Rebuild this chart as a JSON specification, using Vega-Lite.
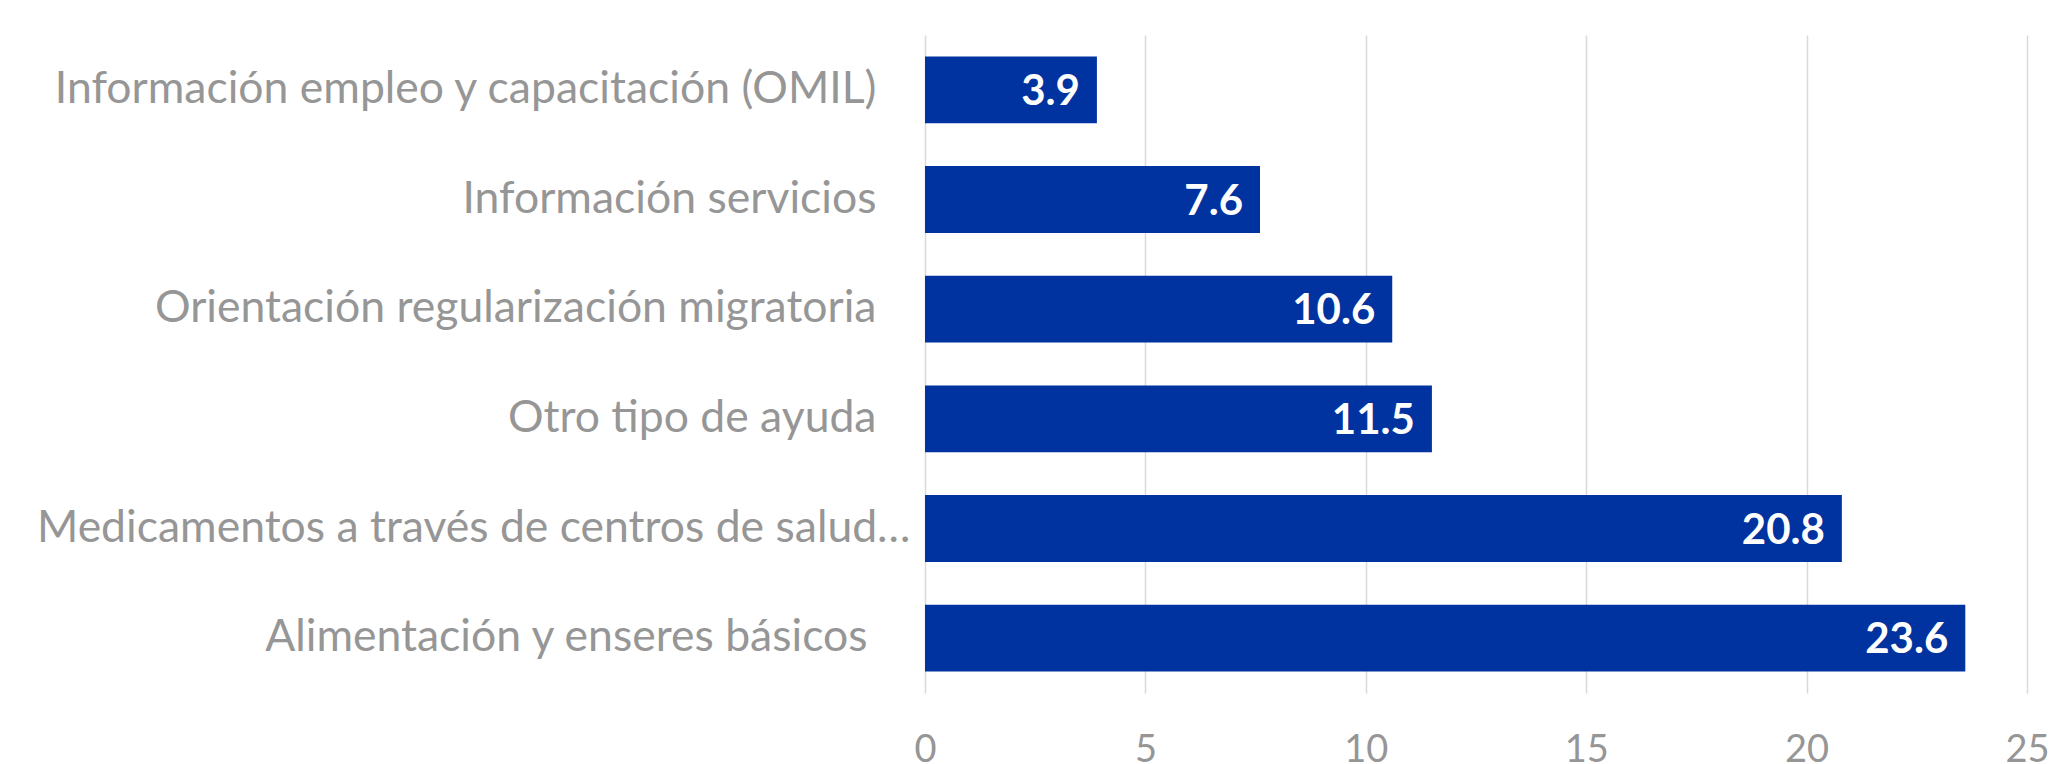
{
  "$schema": "https://vega.github.io/schema/vega-lite/v6.json",
  "width": 1102,
  "height": 658,
  "autosize": {"type": "none"},
  "padding": {"left": 925, "top": 35, "right": 22, "bottom": 71},
  "background": "white",
  "config": {"view": {"stroke": null}},
  "data": {
    "values": [
      {"categoria": "Información empleo y capacitación (OMIL)", "valor": 3.9},
      {"categoria": "Información servicios", "valor": 7.6},
      {"categoria": "Orientación regularización migratoria", "valor": 10.6},
      {"categoria": "Otro tipo de ayuda", "valor": 11.5},
      {"categoria": "Medicamentos a través de centros de salud…", "valor": 20.8},
      {"categoria": "Alimentación y enseres básicos", "valor": 23.6}
    ]
  },
  "encoding": {
    "y": {
      "field": "categoria",
      "type": "nominal",
      "sort": null,
      "scale": {"paddingInner": 0.39, "paddingOuter": 0.195},
      "axis": {
        "title": null,
        "domain": false,
        "ticks": false,
        "labelFont": "Lato",
        "labelFontSize": 44.5,
        "labelColor": "#969696",
        "labelLimit": 1000,
        "labelAlign": "right",
        "labelBaseline": "middle",
        "labelPadding": {
          "condition": [
            {"test": "datum.value === 'Medicamentos a través de centros de salud…'", "value": 15},
            {"test": "datum.value === 'Alimentación y enseres básicos'", "value": 58}
          ],
          "value": 49
        }
      }
    },
    "x": {
      "field": "valor",
      "type": "quantitative",
      "scale": {"domain": [0, 25], "nice": false},
      "axis": {
        "title": null,
        "values": [0, 5, 10, 15, 20, 25],
        "domain": false,
        "ticks": false,
        "grid": true,
        "gridColor": "#d9d9d9",
        "gridWidth": 1.5,
        "labelFont": "Lato",
        "labelFontSize": 38,
        "labelColor": "#969696",
        "labelPadding": 38,
        "labelFlush": false,
        "labelOverlap": false
      }
    }
  },
  "layer": [
    {"mark": {"type": "bar", "color": "#0033A0"}},
    {
      "mark": {
        "type": "text",
        "align": "right",
        "baseline": "middle",
        "dx": -17,
        "dy": 2,
        "font": "Lato",
        "fontSize": 42,
        "fontWeight": "bold",
        "color": "white"
      },
      "encoding": {"text": {"field": "valor", "type": "quantitative", "format": ".1f"}}
    }
  ]
}
